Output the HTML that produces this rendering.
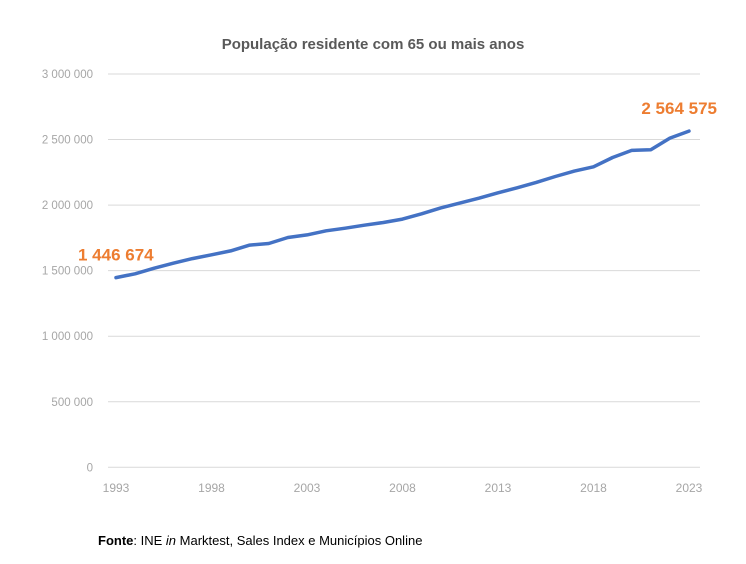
<!DOCTYPE html>
<html><head><meta charset="utf-8">
<style>
body{margin:0;background:#fff;width:746px;height:559px;overflow:hidden;font-family:"Liberation Sans",sans-serif;}
svg text{font-family:"Liberation Sans",sans-serif;}
</style></head>
<body>
<svg id="chart" width="746" height="559">
<text x="373" y="49" text-anchor="middle" font-size="15" font-weight="bold" fill="#595959">População residente com 65 ou mais anos</text>
<g id="grid"></g><g id="yt"></g><g id="xt"></g><g id="series"></g>
<text x="98" y="545" font-size="13" fill="#000"><tspan font-weight="bold">Fonte</tspan>: INE <tspan font-style="italic">in</tspan> Marktest, Sales Index e Municípios Online</text>
</svg>
<script>
const years=[1993,1994,1995,1996,1997,1998,1999,2000,2001,2002,2003,2004,2005,2006,2007,2008,2009,2010,2011,2012,2013,2014,2015,2016,2017,2018,2019,2020,2021,2022,2023];
const values=[1446674,1475600,1519000,1557000,1592000,1621000,1651000,1695000,1707000,1753000,1773000,1804000,1824000,1847000,1867000,1893000,1934000,1979000,2015000,2053000,2094000,2132000,2173000,2218000,2259000,2292000,2363000,2417000,2422000,2511000,2564575];
const yTicks=[0,500000,1000000,1500000,2000000,2500000,3000000];
const yTickLabels=["0","500 000","1 000 000","1 500 000","2 000 000","2 500 000","3 000 000"];
const xTickLabels=[1993,1998,2003,2008,2013,2018,2023];
const annLabels=["1 446 674","2 564 575"];
const NS="http://www.w3.org/2000/svg";
const x0=116,x1=689,y0=467.3,y1=74;
const xs=v=>x0+(v-1993)/(2023-1993)*(x1-x0);
const ys=v=>y0-v/3000000*(y0-y1);
function mk(tag,attrs,parent,txt){const e=document.createElementNS(NS,tag);for(const k in attrs)e.setAttribute(k,attrs[k]);if(txt!==undefined)e.textContent=txt;document.getElementById(parent).appendChild(e);return e;}
yTicks.forEach((t,i)=>{
 const l=mk('line',{x1:108,x2:700,y1:ys(t),y2:ys(t),stroke:'#d9d9d9','stroke-width':1},'grid');
 
 
 const tx=mk('text',{x:93,y:ys(t)+4,'text-anchor':'end','font-size':11.5,fill:'#a6a6a6'},'yt',yTickLabels[i]);
 
 
});
xTickLabels.forEach(t=>{
 const tx=mk('text',{x:xs(t),y:492,'text-anchor':'middle','font-size':12,fill:'#a6a6a6'},'xt',t);
 
 
});
const d=values.map((v,i)=>(i?'L':'M')+xs(years[i]).toFixed(1)+','+ys(v).toFixed(1)).join(' ');
const p=mk('path',{d:d,fill:'none',stroke:'#4472c4','stroke-width':3.5,'stroke-linejoin':'round','stroke-linecap':'round'},'series');


const a1=mk('text',{x:xs(years[0])-38,y:ys(values[0])-17,'font-size':17,'font-weight':'bold',fill:'#ed7d31'},'series',annLabels[0]);


const n=values.length-1;
const a2=mk('text',{x:xs(years[n])+28,y:ys(values[n])-17,'text-anchor':'end','font-size':17,'font-weight':'bold',fill:'#ed7d31'},'series',annLabels[1]);


</script>
</body></html>
